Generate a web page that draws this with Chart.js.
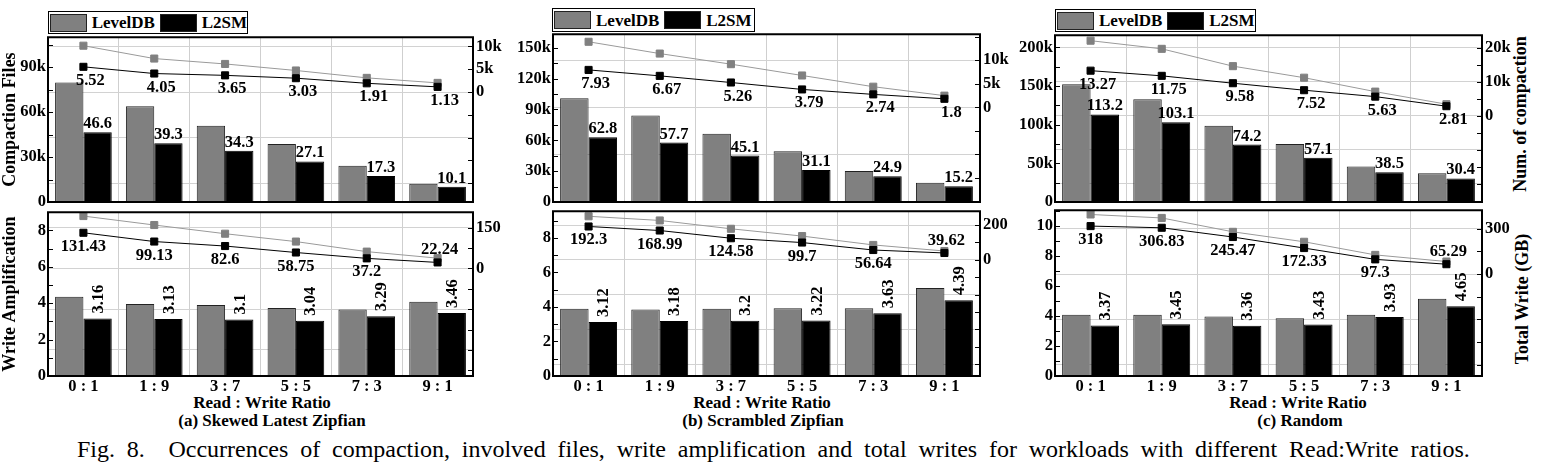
<!DOCTYPE html>
<html>
<head>
<meta charset="utf-8">
<script src="https://cdn.jsdelivr.net/npm/chart.js@4.4.1/dist/chart.umd.min.js"></script>
<style>
  body { margin: 0; width: 1567px; height: 471px; background: #fff; position: relative; overflow: hidden;
         font-family: "Liberation Serif", Tinos, "Times New Roman", Times, "DejaVu Serif", serif; color: #000; }
  canvas { position: absolute; }
  .legend { position: absolute; box-sizing: border-box; border: 1.5px solid #000; display: flex; align-items: center;
            font-weight: bold; font-size: 17px; line-height: 17px; }
  .sw { display: inline-block; width: 37px; height: 18px; box-sizing: border-box; border: 1px solid #222; margin: 0 5px 0 1px; }
  .ct { position: absolute; transform: translateX(-50%); font-weight: bold; font-size: 17px; line-height: 17px; white-space: nowrap; }
  .vt { position: absolute; transform: translate(-50%, -50%) rotate(-90deg); font-weight: bold; font-size: 18px; line-height: 18px; white-space: nowrap; }
  #caption { position: absolute; left: 77px; top: 437px; font-size: 24px; line-height: 24px; white-space: nowrap; }
</style>
</head>
<body>

<div class="legend" style="left:48px;top:11px;width:200px;height:23px"><span class="sw" style="background:#808080"></span>LevelDB<span class="sw" style="background:#000;margin-left:5px"></span>L2SM</div>
<div class="legend" style="left:552px;top:8px;width:203px;height:24px"><span class="sw" style="background:#808080"></span>LevelDB<span class="sw" style="background:#000;margin-left:5px"></span>L2SM</div>
<div class="legend" style="left:1055px;top:9px;width:201px;height:23px"><span class="sw" style="background:#808080"></span>LevelDB<span class="sw" style="background:#000;margin-left:5px"></span>L2SM</div>

<div class="ct" style="left:262px;top:394px">Read : Write Ratio</div>
<div class="ct" style="left:272px;top:412px">(a) Skewed Latest Zipfian</div>
<div class="ct" style="left:762px;top:394px">Read : Write Ratio</div>
<div class="ct" style="left:763px;top:412px">(b) Scrambled Zipfian</div>
<div class="ct" style="left:1298px;top:394px">Read : Write Ratio</div>
<div class="ct" style="left:1300px;top:412px">(c) Random</div>

<div class="vt" style="left:1520px;top:114px">Num. of compaction</div>
<div class="vt" style="left:1522px;top:299px">Total Write (GB)</div>

<div id="caption">Fig. 8.&nbsp; Occurrences of compaction, involved files, write amplification and total writes for workloads with different Read:Write ratios.</div>

<script>
const categories = ['0 : 1', '1 : 9', '3 : 7', '5 : 5', '7 : 3', '9 : 1'];

// (a) Skewed Latest Zipfian  (files / compactions in thousands)
const filesLevelDB_a = [79.8, 64.0, 50.9, 38.7, 24.2, 12.2];
const filesL2SM_a    = [46.6, 39.3, 34.3, 27.1, 17.3, 10.1];
const compLevelDB_a  = [10.15, 7.33, 6.15, 4.72, 3.1, 2.0];
const compL2SM_a     = [5.52, 4.05, 3.65, 3.03, 1.91, 1.13];
const waLevelDB_a    = [4.35, 3.96, 3.9, 3.74, 3.65, 4.08];
const waL2SM_a       = [3.16, 3.13, 3.1, 3.04, 3.29, 3.46];
const twLevelDB_a    = [193, 160, 128, 99, 62, 38];
const twL2SM_a       = [131.43, 99.13, 82.6, 58.75, 37.2, 22.24];

// (b) Scrambled Zipfian
const filesLevelDB_b = [100.7, 84.0, 66.3, 49.3, 30.2, 18.6];
const filesL2SM_b    = [62.8, 57.7, 45.1, 31.1, 24.9, 15.2];
const compLevelDB_b  = [13.9, 11.4, 9.15, 6.75, 4.37, 2.47];
const compL2SM_b     = [7.93, 6.67, 5.26, 3.79, 2.74, 1.8];
const waLevelDB_b    = [3.89, 3.85, 3.89, 3.93, 3.93, 5.1];
const waL2SM_b       = [3.12, 3.18, 3.2, 3.22, 3.63, 4.39];
const twLevelDB_b    = [251, 227, 179, 137, 86, 51];
const twL2SM_b       = [192.3, 168.99, 124.58, 99.7, 56.64, 39.62];

// (c) Random
const filesLevelDB_c = [152.2, 132.9, 98.6, 75.0, 45.9, 37.3];
const filesL2SM_c    = [113.2, 103.1, 74.2, 57.1, 38.5, 30.4];
const compLevelDB_c  = [22.1, 19.7, 14.6, 11.2, 7.1, 3.4];
const compL2SM_c     = [13.27, 11.75, 9.58, 7.52, 5.63, 2.81];
const waLevelDB_c    = [4.09, 4.09, 3.97, 3.86, 4.09, 5.15];
const waL2SM_c       = [3.37, 3.45, 3.36, 3.43, 3.93, 4.65];
const twLevelDB_c    = [395, 372, 280, 214, 127, 83];
const twL2SM_c       = [318, 306.83, 245.47, 172.33, 97.3, 65.29];

// labelled tick values
const filesTicks_a = [0, 30, 60, 90];
const filesTicks_b = [0, 30, 60, 90, 120, 150];
const filesTicks_c = [0, 50, 100, 150, 200];
const compTicks_a  = [0, 5, 10];
const compTicks_b  = [0, 5, 10];
const compTicks_c  = [0, 10, 20];
const waTicks_ab   = [0, 2, 4, 6, 8];
const waTicks_c    = [0, 2, 4, 6, 8, 10];
const twTicks_a    = [0, 150];
const twTicks_b    = [0, 200];
const twTicks_c    = [0, 300];

const SERIF = '"Liberation Serif", Tinos, "Times New Roman", Times, "DejaVu Serif", serif';

function tickSet(min, max, step) {
  const out = [];
  for (let v = Math.ceil(min / step - 1e-9) * step; v <= max + 1e-9; v += step) out.push({ value: +v.toFixed(6) });
  return out;
}

// value labels, inner tick marks and the frame
const panelDeco = {
  id: 'panelDeco',
  afterDatasetsDraw(chart, args, o) {
    const ctx = chart.ctx, a = chart.chartArea;
    ctx.save();
    ctx.font = 'bold 16.5px ' + SERIF;
    ctx.fillStyle = '#000';
    const bars = chart.getDatasetMeta(1).data, barVals = chart.data.datasets[1].data;
    bars.forEach((el, i) => {
      const t = String(barVals[i]);
      if (o.rotate) {
        ctx.save();
        ctx.translate(el.x + 1, el.y - 5);
        ctx.rotate(-Math.PI / 2);
        ctx.textAlign = 'left';
        ctx.textBaseline = 'middle';
        ctx.fillText(t, 0, 0);
        ctx.restore();
      } else {
        ctx.textAlign = 'center';
        ctx.textBaseline = 'alphabetic';
        ctx.fillText(t, el.x, el.y - 4);
      }
    });
    const pts = chart.getDatasetMeta(3).data, lineVals = chart.data.datasets[3].data;
    ctx.textAlign = 'center';
    ctx.textBaseline = 'alphabetic';
    pts.forEach((el, i) => {
      const above = o.lastAbove && i === pts.length - 1;
      ctx.fillText(String(lineVals[i]), el.x + (above ? 2 : o.dx), above ? el.y - 8 : el.y + 18);
    });

    // tics pointing inward
    ctx.strokeStyle = '#000';
    ctx.lineWidth = 1.2;
    const yl = chart.scales.y, yr = chart.scales.y1;
    ctx.beginPath();
    yl.ticks.forEach(t => { const y = Math.round(yl.getPixelForValue(t.value)) + 0.5; ctx.moveTo(a.left, y); ctx.lineTo(a.left + 5, y); });
    yr.ticks.forEach(t => { const y = Math.round(yr.getPixelForValue(t.value)) + 0.5; ctx.moveTo(a.right - 5, y); ctx.lineTo(a.right, y); });
    ctx.stroke();

    ctx.lineWidth = 2;
    ctx.strokeRect(a.left, a.top, a.right - a.left, a.bottom - a.top);
    ctx.restore();
  }
};

function tickText(v, axis) {
  if (!axis.labels.includes(v)) return '';
  return v === 0 ? '0' : v + axis.suffix;
}

function makeChart(p) {
  const cv = document.createElement('canvas');
  cv.width = p.w; cv.height = p.h;
  cv.style.left = p.x + 'px'; cv.style.top = p.y + 'px';
  document.body.appendChild(cv);
  const tickFont = { family: SERIF, size: 16.5, weight: 'bold', lineHeight: 1 };
  const L = p.left, R = p.right;

  return new Chart(cv, {
    type: 'bar',
    data: {
      labels: categories,
      datasets: [
        { label: 'LevelDB', data: p.bars[0], backgroundColor: '#808080', borderColor: '#222', borderWidth: 1,
          categoryPercentage: 0.8, barPercentage: 1.0, order: 2, yAxisID: 'y' },
        { label: 'L2SM', data: p.bars[1], backgroundColor: '#000', borderColor: '#000', borderWidth: 1,
          categoryPercentage: 0.8, barPercentage: 1.0, order: 2, yAxisID: 'y' },
        { type: 'line', label: 'LevelDB', data: p.lines[0], borderColor: '#9a9a9a', borderWidth: 1,
          pointStyle: 'rect', pointRadius: 5, pointBackgroundColor: '#808080', pointBorderColor: '#808080',
          order: 1, yAxisID: 'y1' },
        { type: 'line', label: 'L2SM', data: p.lines[1], borderColor: '#000', borderWidth: 1,
          pointStyle: 'rect', pointRadius: 5, pointBackgroundColor: '#000', pointBorderColor: '#000',
          order: 0, yAxisID: 'y1' }
      ]
    },
    options: {
      responsive: false,
      animation: false,
      layout: { padding: { top: p.padTop, left: 0, right: 0, bottom: 0 } },
      plugins: {
        legend: { display: false },
        tooltip: { enabled: false },
        panelDeco: { rotate: p.bottomRow, lastAbove: p.bottomRow, dx: p.bottomRow ? 0 : 7 }
      },
      scales: {
        x: {
          grid: { offset: true, color: '#cfcfcf', drawTicks: false },
          border: { display: false },
          ticks: { display: p.bottomRow, font: tickFont, color: '#000', padding: 2, maxRotation: 0 },
          afterFit: s => { s.height = p.bottomH; }
        },
        y: {
          position: 'left', min: L.min, max: L.max,
          afterBuildTicks: s => { s.ticks = tickSet(L.min, L.max, L.step); },
          ticks: { font: tickFont, color: '#000', padding: 2, autoSkip: false, callback: v => tickText(v, L) },
          grid: { drawOnChartArea: false, drawTicks: false },
          border: { display: false },
          title: { display: !!p.leftTitle, text: p.leftTitle || '', color: '#000', padding: 0,
                   font: { family: SERIF, size: 18, weight: 'bold' } },
          afterFit: s => { s.width = p.leftW; }
        },
        y1: {
          position: 'right', min: R.min, max: R.max,
          afterBuildTicks: s => { s.ticks = tickSet(R.min, R.max, R.step); },
          ticks: { font: tickFont, color: '#000', padding: 3, autoSkip: false, callback: v => tickText(v, R) },
          grid: { drawOnChartArea: true, drawTicks: false,
                  color: c => (c.tick && Math.abs(Math.round(c.tick.value / R.step)) % 2 === 0) ? '#d2d2d2' : 'rgba(0,0,0,0)' },
          border: { display: false },
          afterFit: s => { s.width = p.rightW; }
        }
      }
    },
    plugins: [panelDeco]
  });
}

const panels = [
  { x: 0, y: 26, w: 525, h: 188, padTop: 10, bottomH: 12, leftW: 48, rightW: 52, bottomRow: false,
    leftTitle: 'Compaction Files',
    bars: [filesLevelDB_a, filesL2SM_a], lines: [compLevelDB_a, compL2SM_a],
    left: { min: 0, max: 110, step: 15, labels: filesTicks_a, suffix: 'k' },
    right: { min: -24.1, max: 12, step: 5, labels: compTicks_a, suffix: 'k' } },
  { x: 0, y: 201, w: 525, h: 199, padTop: 10, bottomH: 24, leftW: 48, rightW: 52, bottomRow: true,
    leftTitle: 'Write Amplification',
    bars: [waLevelDB_a, waL2SM_a], lines: [twLevelDB_a, twL2SM_a],
    left: { min: 0, max: 9, step: 1, labels: waTicks_ab, suffix: '' },
    right: { min: -396, max: 207, step: 75, labels: twTicks_a, suffix: '' } },

  { x: 500, y: 23, w: 532, h: 191, padTop: 10, bottomH: 12, leftW: 53, rightW: 52, bottomRow: false,
    bars: [filesLevelDB_b, filesL2SM_b], lines: [compLevelDB_b, compL2SM_b],
    left: { min: 0, max: 163, step: 15, labels: filesTicks_b, suffix: 'k' },
    right: { min: -20.1, max: 15.5, step: 5, labels: compTicks_b, suffix: 'k' } },
  { x: 500, y: 200, w: 532, h: 200, padTop: 10, bottomH: 24, leftW: 53, rightW: 52, bottomRow: true,
    bars: [waLevelDB_b, waL2SM_b], lines: [twLevelDB_b, twL2SM_b],
    left: { min: 0, max: 9.54, step: 1, labels: waTicks_ab, suffix: '' },
    right: { min: -669, max: 280, step: 100, labels: twTicks_b, suffix: '' } },

  { x: 1005, y: 24, w: 532, h: 190, padTop: 10, bottomH: 12, leftW: 50, rightW: 55, bottomRow: false,
    bars: [filesLevelDB_c, filesL2SM_c], lines: [compLevelDB_c, compL2SM_c],
    left: { min: 0, max: 215.5, step: 25, labels: filesTicks_c, suffix: 'k' },
    right: { min: -25.4, max: 23.7, step: 5, labels: compTicks_c, suffix: 'k' } },
  { x: 1005, y: 199, w: 532, h: 201, padTop: 10, bottomH: 24, leftW: 50, rightW: 55, bottomRow: true,
    bars: [waLevelDB_c, waL2SM_c], lines: [twLevelDB_c, twL2SM_c],
    left: { min: 0, max: 11.06, step: 1, labels: waTicks_c, suffix: '' },
    right: { min: -676, max: 423, step: 150, labels: twTicks_c, suffix: '' } }
];

panels.forEach(makeChart);

// stretch the caption to the width of the printed line
const cap = document.getElementById('caption');
const spaces = (cap.textContent.match(/ /g) || []).length;
const natural = cap.getBoundingClientRect().width;
cap.style.wordSpacing = ((1387 - natural) / spaces) + 'px';
</script>
</body>
</html>
